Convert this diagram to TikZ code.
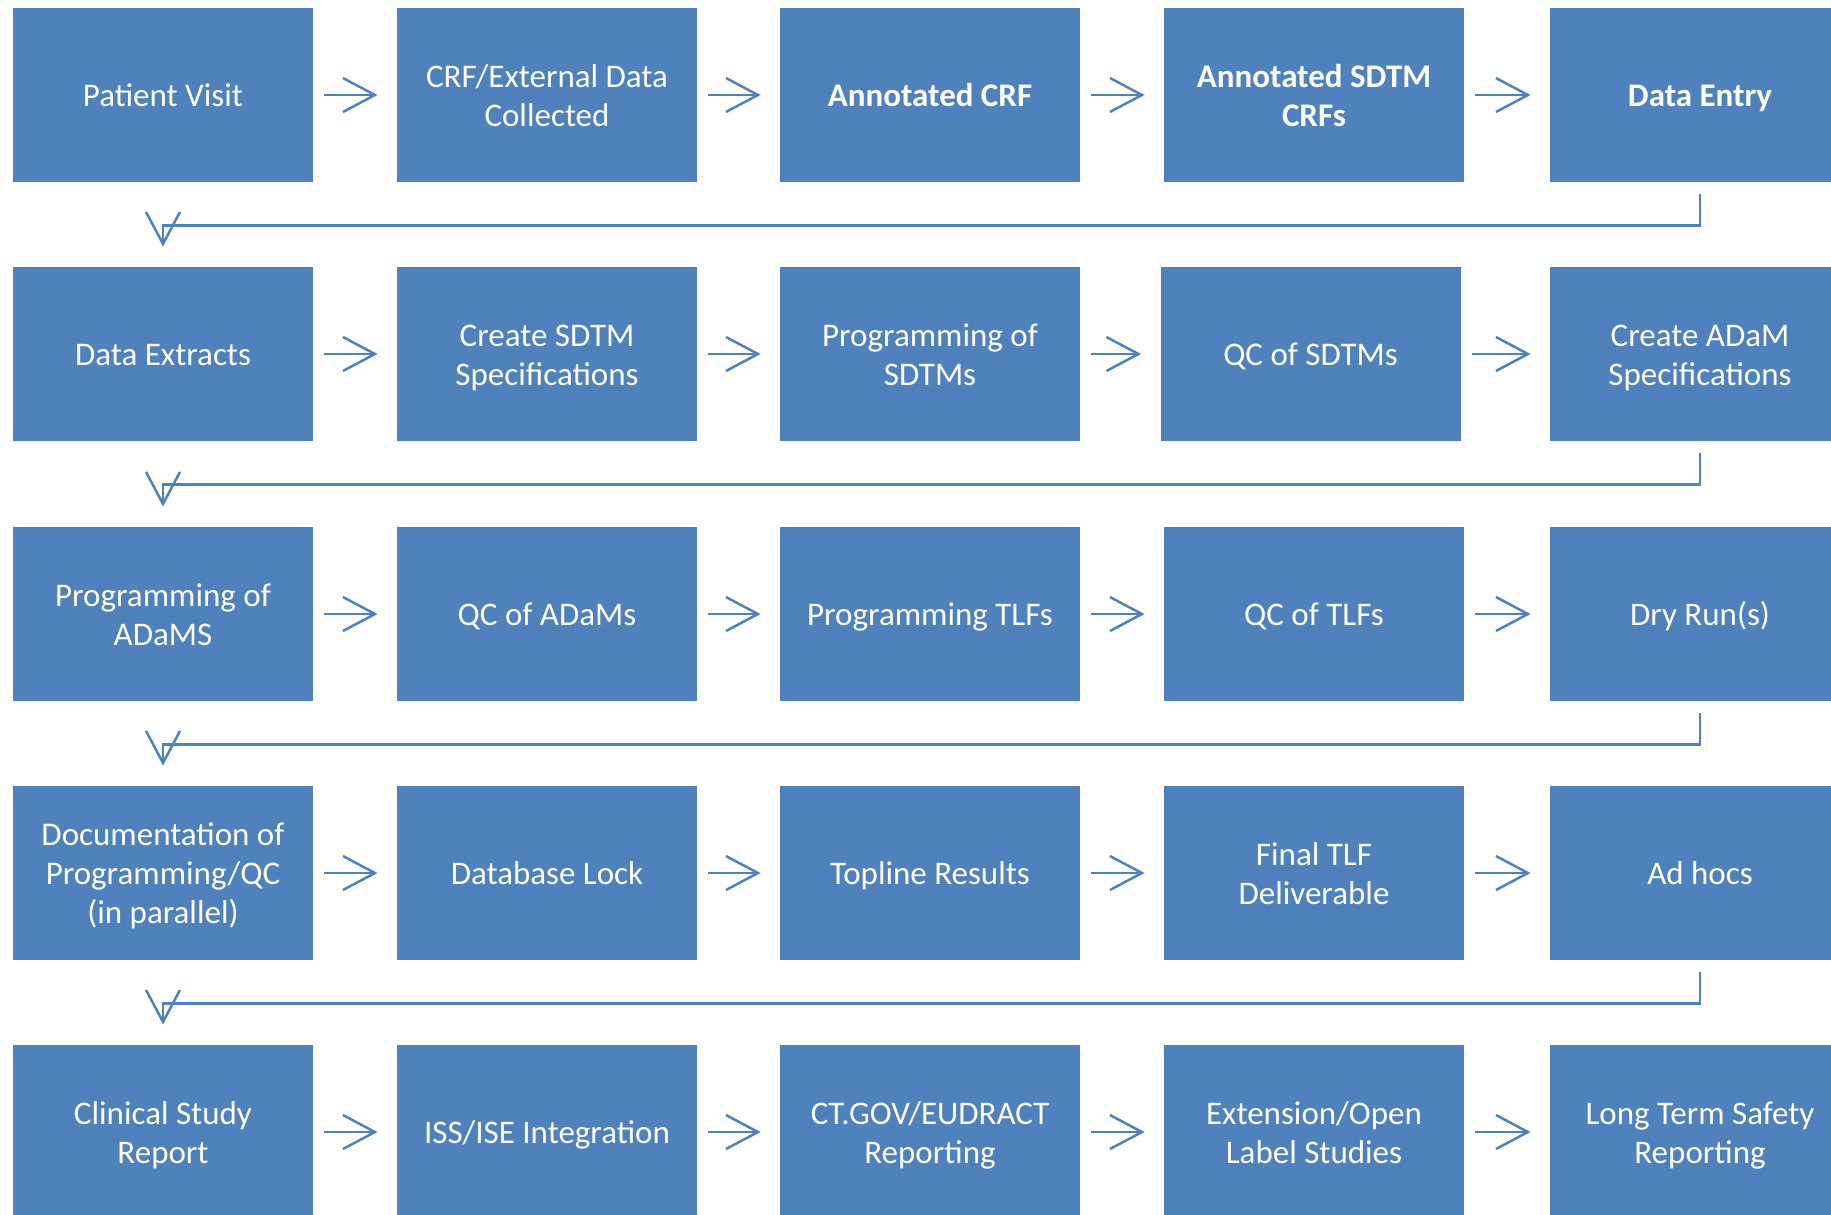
\documentclass[tikz,border=0pt]{standalone}
\usepackage{fontspec}
\setmainfont{Carlito}
\usetikzlibrary{arrows.meta}
\definecolor{officeblue}{RGB}{79,129,189}

\begin{document}
\begin{tikzpicture}[x=0.5pt, y=-0.5pt,
        taskbox/.style = {shape=rectangle, fill=officeblue, text=white,
        minimum width=150pt, minimum height=87pt, inner sep=0pt,
        align=center, font=\fontsize{16.5}{19.5}\selectfont,
        text height=17.5pt, text depth=5.8pt},
        twolines/.style = {taskbox, text height=37pt},
        threelines/.style = {taskbox, text height=56.5pt},
        flowarrow/.style = {draw=officeblue, line width=1.25pt,
        -{Straight Barb[length=16pt, width=17pt]},
        shorten <=5.5pt, shorten >=9.5pt},
        wrapline/.style = {flowarrow, shorten <=6pt, shorten >=10pt}]
    \useasboundingbox (0,0) rectangle (1831,1215);
    \clip (0,0) rectangle (1831,1215);

    \node[taskbox]  (visit)     at (163,95)  {Patient Visit};
    \node[twolines] (crfData)   at (547,95)  {CRF/External Data\\Collected};
    \node[taskbox]  (annCrf)    at (930,95)  {\bfseries Annotated CRF};
    \node[twolines] (annSdtm)   at (1314,95) {\bfseries Annotated SDTM\\\bfseries CRFs};
    \node[taskbox]  (dataEntry) at (1700,95) {\bfseries Data Entry};

    \node[taskbox]  (extracts)  at (163,354)    {Data Extracts};
    \node[twolines] (sdtmSpec)  at (547,354)    {Create SDTM\\Specifications};
    \node[twolines] (sdtmProg)  at (930,354)    {Programming of\\SDTMs};
    \node[taskbox]  (sdtmQc)    at (1310.5,354) {QC of SDTMs};
    \node[twolines] (adamSpec)  at (1700,354)   {Create ADaM\\Specifications};

    \node[twolines] (adamProg)  at (163,614)  {Programming of\\ADaMS};
    \node[taskbox]  (adamQc)    at (547,614)  {QC of ADaMs};
    \node[taskbox]  (tlfProg)   at (930,614)  {Programming TLFs};
    \node[taskbox]  (tlfQc)     at (1314,614) {QC of TLFs};
    \node[taskbox]  (dryRun)    at (1700,614) {Dry Run(s)};

    \node[threelines] (progDoc) at (163,873)  {Documentation of\\Programming/QC\\(in parallel)};
    \node[taskbox]  (dbLock)    at (547,873)  {Database Lock};
    \node[taskbox]  (topline)   at (930,873)  {Topline Results};
    \node[twolines] (finalTlf)  at (1314,873) {Final TLF\\Deliverable};
    \node[taskbox]  (adHocs)    at (1700,873) {Ad hocs};

    \node[twolines] (csr)       at (163,1132)  {Clinical Study\\Report};
    \node[taskbox]  (issIse)    at (547,1132)  {ISS/ISE Integration};
    \node[twolines] (ctGov)     at (930,1132)  {CT.GOV/EUDRACT\\Reporting};
    \node[twolines] (openLabel) at (1314,1132) {Extension/Open\\Label Studies};
    \node[twolines] (safety)    at (1700,1132) {Long Term Safety\\Reporting};

    \draw[flowarrow] (visit) -- (crfData);
    \draw[flowarrow] (crfData) -- (annCrf);
    \draw[flowarrow] (annCrf) -- (annSdtm);
    \draw[flowarrow] (annSdtm) -- (dataEntry);
    \draw[wrapline] (dataEntry.south) -- ++(0,43) -| (extracts.north);

    \draw[flowarrow] (extracts) -- (sdtmSpec);
    \draw[flowarrow] (sdtmSpec) -- (sdtmProg);
    \draw[flowarrow] (sdtmProg) -- (sdtmQc);
    \draw[flowarrow] (sdtmQc) -- (adamSpec);
    \draw[wrapline] (adamSpec.south) -- ++(0,43) -| (adamProg.north);

    \draw[flowarrow] (adamProg) -- (adamQc);
    \draw[flowarrow] (adamQc) -- (tlfProg);
    \draw[flowarrow] (tlfProg) -- (tlfQc);
    \draw[flowarrow] (tlfQc) -- (dryRun);
    \draw[wrapline] (dryRun.south) -- ++(0,43) -| (progDoc.north);

    \draw[flowarrow] (progDoc) -- (dbLock);
    \draw[flowarrow] (dbLock) -- (topline);
    \draw[flowarrow] (topline) -- (finalTlf);
    \draw[flowarrow] (finalTlf) -- (adHocs);
    \draw[wrapline] (adHocs.south) -- ++(0,43) -| (csr.north);

    \draw[flowarrow] (csr) -- (issIse);
    \draw[flowarrow] (issIse) -- (ctGov);
    \draw[flowarrow] (ctGov) -- (openLabel);
    \draw[flowarrow] (openLabel) -- (safety);
\end{tikzpicture}
\end{document}
